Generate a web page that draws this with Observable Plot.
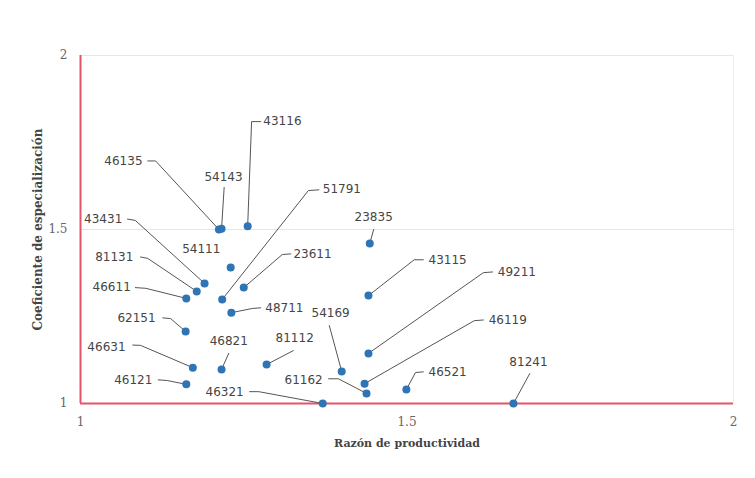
<!DOCTYPE html>
<html>
<head>
<meta charset="utf-8">
<script src="https://cdn.jsdelivr.net/npm/d3@7"></script>
<script src="https://cdn.jsdelivr.net/npm/@observablehq/plot@0.6"></script>
<style>
  html, body { margin: 0; padding: 0; background: #ffffff; }
  #chart { width: 755px; height: 478px; }
</style>
</head>
<body>
<div id="chart"></div>
<script>
// ---- Data ----
const codes = ["46135","54143","43116","54111","43431","81131","46611","51791","23611","48711","62151","46631","46821","81112","54169","46121","46321","61162","46119","49211","43115","23835","46521","81241"];
const prodRatio = [1.212,1.216,1.256,1.230,1.190,1.178,1.162,1.217,1.250,1.231,1.161,1.172,1.216,1.285,1.400,1.162,1.371,1.438,1.435,1.441,1.441,1.443,1.499,1.663];
const specCoef  = [1.500,1.502,1.509,1.391,1.345,1.322,1.302,1.299,1.333,1.261,1.207,1.103,1.098,1.112,1.092,1.055,1.000,1.029,1.057,1.144,1.310,1.460,1.040,1.000];

// label anchors (data units) and text alignment
const labelX = [1.095,1.219,1.280,1.185,1.064,1.081,1.077,1.371,1.326,1.283,1.115,1.069,1.227,1.328,1.383,1.110,1.250,1.371,1.625,1.639,1.533,1.449,1.533,1.686];
const labelY = [1.697,1.649,1.810,1.443,1.529,1.420,1.333,1.615,1.428,1.273,1.244,1.161,1.178,1.187,1.259,1.066,1.032,1.066,1.239,1.376,1.411,1.535,1.089,1.118];
const labelAlign = ["end","middle","start","middle","end","end","end","start","start","start","end","end","middle","middle","middle","end","end","end","start","start","start","middle","start","middle"];
// leader lines: end near label, optional bend (null = straight)
const leaderEndX = [1.103,1.220,1.276,null,1.072,1.092,1.084,1.365,1.322,1.276,1.126,1.080,1.227,1.326,1.381,1.119,1.259,1.380,1.617,1.631,1.525,1.449,1.525,1.688];
const leaderEndY = [1.697,1.621,1.810,null,1.530,1.421,1.333,1.614,1.430,1.275,1.246,1.168,1.144,1.152,1.224,1.068,1.034,1.071,1.240,1.378,1.413,1.500,1.091,1.086];
const leaderBendX = [1.115,null,1.262,null,1.084,1.103,1.100,1.349,1.309,1.263,1.138,1.092,null,null,null,1.133,1.273,1.395,1.603,1.617,1.511,null,1.513,null];
const leaderBendY = [1.697,null,1.810,null,1.526,1.417,1.331,1.612,1.428,1.273,1.244,1.167,null,null,null,1.066,1.034,1.071,1.238,1.376,1.413,null,1.089,null];

const xTicks = [1, 1.5, 2];
const yTicks = [1, 1.5, 2];
const xTitle = "Razón de productividad";
const yTitle = "Coeficiente de especialización";

// ---- Build tables ----
const pts = codes.map((c, i) => ({code: c, x: prodRatio[i], y: specCoef[i]}));
const labels = codes.map((c, i) => ({code: c, x: labelX[i], y: labelY[i], align: labelAlign[i]}));
const leaders = [];
codes.forEach((c, i) => {
  if (leaderEndX[i] == null) return;
  leaders.push({code: c, x: prodRatio[i], y: specCoef[i]});
  if (leaderBendX[i] != null) leaders.push({code: c, x: leaderBendX[i], y: leaderBendY[i]});
  leaders.push({code: c, x: leaderEndX[i], y: leaderEndY[i]});
});

const labelFont = "'DejaVu Sans', Verdana, sans-serif";
const serif = "'DejaVu Serif', 'Liberation Serif', serif";
const red = "#e5546a";

const chart = Plot.plot({
  width: 755,
  height: 478,
  marginLeft: 80,
  marginRight: 22,
  marginTop: 55,
  marginBottom: 75,
  style: {background: "#ffffff", fontFamily: labelFont},
  x: {domain: [1, 2]},
  y: {domain: [1, 2]},
  marks: [
    Plot.gridY([1.5, 2], {stroke: "#e6e6e6", strokeOpacity: 1, strokeWidth: 1}),
    Plot.ruleX([2], {y1: 1, y2: 2, stroke: "#eeeeee"}),
    Plot.axisX(xTicks, {tickSize: 0, tickPadding: 14, fontSize: 12, fill: "#666", fontFamily: serif, label: null, tickFormat: d => String(d)}),
    Plot.axisY(yTicks, {tickSize: 0, tickPadding: 13, fontSize: 12, fill: "#666", fontFamily: serif, label: null, tickFormat: d => String(d)}),
    Plot.text([xTitle], {frameAnchor: "bottom", dy: 43, textAnchor: "middle", fontSize: 11, fontWeight: "bold", fill: "#444", fontFamily: serif}),
    Plot.text([yTitle], {frameAnchor: "left", dx: -42, rotate: -90, textAnchor: "middle", fontSize: 12, fontWeight: "bold", fill: "#444", fontFamily: serif}),
    Plot.ruleY([1], {x1: 1, x2: 2, stroke: red, strokeWidth: 2}),
    Plot.ruleX([1], {y1: 1, y2: 2, stroke: red, strokeWidth: 2}),
    Plot.line(leaders, {x: "x", y: "y", z: "code", stroke: "#555", strokeWidth: 1, curve: "linear"}),
    Plot.dot(pts, {x: "x", y: "y", r: 4, fill: "#2f74b4", stroke: "none"}),
    Plot.text(labels.filter(d => d.align === "start"), {x: "x", y: "y", text: "code", textAnchor: "start", fontSize: 12, fill: "#454545"}),
    Plot.text(labels.filter(d => d.align === "end"), {x: "x", y: "y", text: "code", textAnchor: "end", fontSize: 12, fill: "#454545"}),
    Plot.text(labels.filter(d => d.align === "middle"), {x: "x", y: "y", text: "code", textAnchor: "middle", fontSize: 12, fill: "#454545"})
  ]
});
document.getElementById("chart").appendChild(chart);
</script>
</body>
</html>
